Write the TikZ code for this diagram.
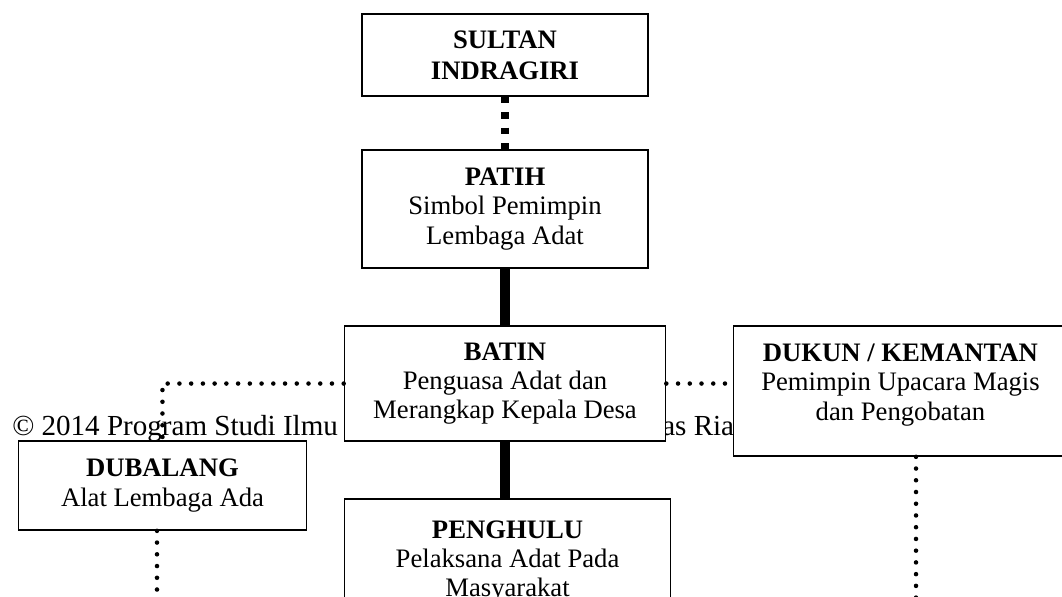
\documentclass[tikz,border=0pt]{standalone}
\usepackage{fontspec}
\setmainfont{Liberation Serif}
\usetikzlibrary{positioning}

\tikzset{
  orgbox/.style={draw, line width=1.2pt, fill=white, align=center, inner sep=0pt,
    font=\fontsize{20}{22}\selectfont},
  garis/.style={line width=8pt},
  titik/.style={line width=3.4pt, line cap=round, dash pattern=on 0pt off 8.8pt},
  kotak/.style={line width=5.7pt, dash pattern=on 5pt off 6.6pt},
  tanda/.style={anchor=base west, inner sep=0pt, font=\fontsize{21.8}{24}\selectfont},
}

\begin{document}
\begin{tikzpicture}[x=0.75pt,y=-0.75pt,on grid]
\useasboundingbox (0,0) rectangle (1062,596);
\clip (0,0) rectangle (1062,596);

% watermark
\node[tanda] (cap1) at (12,435) {© 2014 Program Studi Ilmu};
\node[tanda] (cap2) at (662,435) {as Ria};

\node[orgbox, minimum width=214.5pt, minimum height=61.5pt] (sultan) at (505,55)
  {\textbf{SULTAN}\\[1pt]\textbf{INDRAGIRI}};
\node[orgbox, minimum width=214.5pt, minimum height=88.5pt] (patih) [below=115.5pt of sultan]
  {\textbf{PATIH}\\Simbol Pemimpin\\Lembaga Adat};
\node[orgbox, minimum width=240.75pt, minimum height=86.25pt] (batin) [below=130.9pt of patih]
  {\textbf{BATIN}\\Penguasa Adat dan\\Merangkap Kepala Desa};
\node[orgbox, minimum width=244.5pt, minimum height=93.75pt] (penghulu) [below=133.5pt of batin, xshift=1.9pt]
  {\textbf{PENGHULU}\\Pelaksana Adat Pada\\Masyarakat};
\node[orgbox, minimum width=216pt, minimum height=66.75pt] (dubalang) [below left=76.5pt and 256.9pt of batin]
  {\textbf{DUBALANG}\\Alat Lembaga Ada};
\node[orgbox, minimum width=250.5pt, minimum height=97.5pt] (dukun) [right=296.6pt of batin, yshift=-5.6pt]
  {\textbf{DUKUN / KEMANTAN}\\Pemimpin Upacara Magis\\dan Pengobatan\\[-15pt]\strut};

% garis
\draw[kotak] (sultan) -- (patih);
\draw[garis] (patih) -- (batin);
\draw[garis] (batin.south) -- (batin.south |- penghulu.north);
\draw[titik] (batin.east) -- (batin.east -| dukun.west);
\draw[titik] (batin.west) -| (dubalang.north);

\coordinate (dbend) at (157,620);
\coordinate (dkend) at (916,620);
\draw[titik] (dbend |- dubalang.south) -- (dbend);
\draw[titik] (dkend |- dukun.south) -- (dkend);
\end{tikzpicture}
\end{document}
